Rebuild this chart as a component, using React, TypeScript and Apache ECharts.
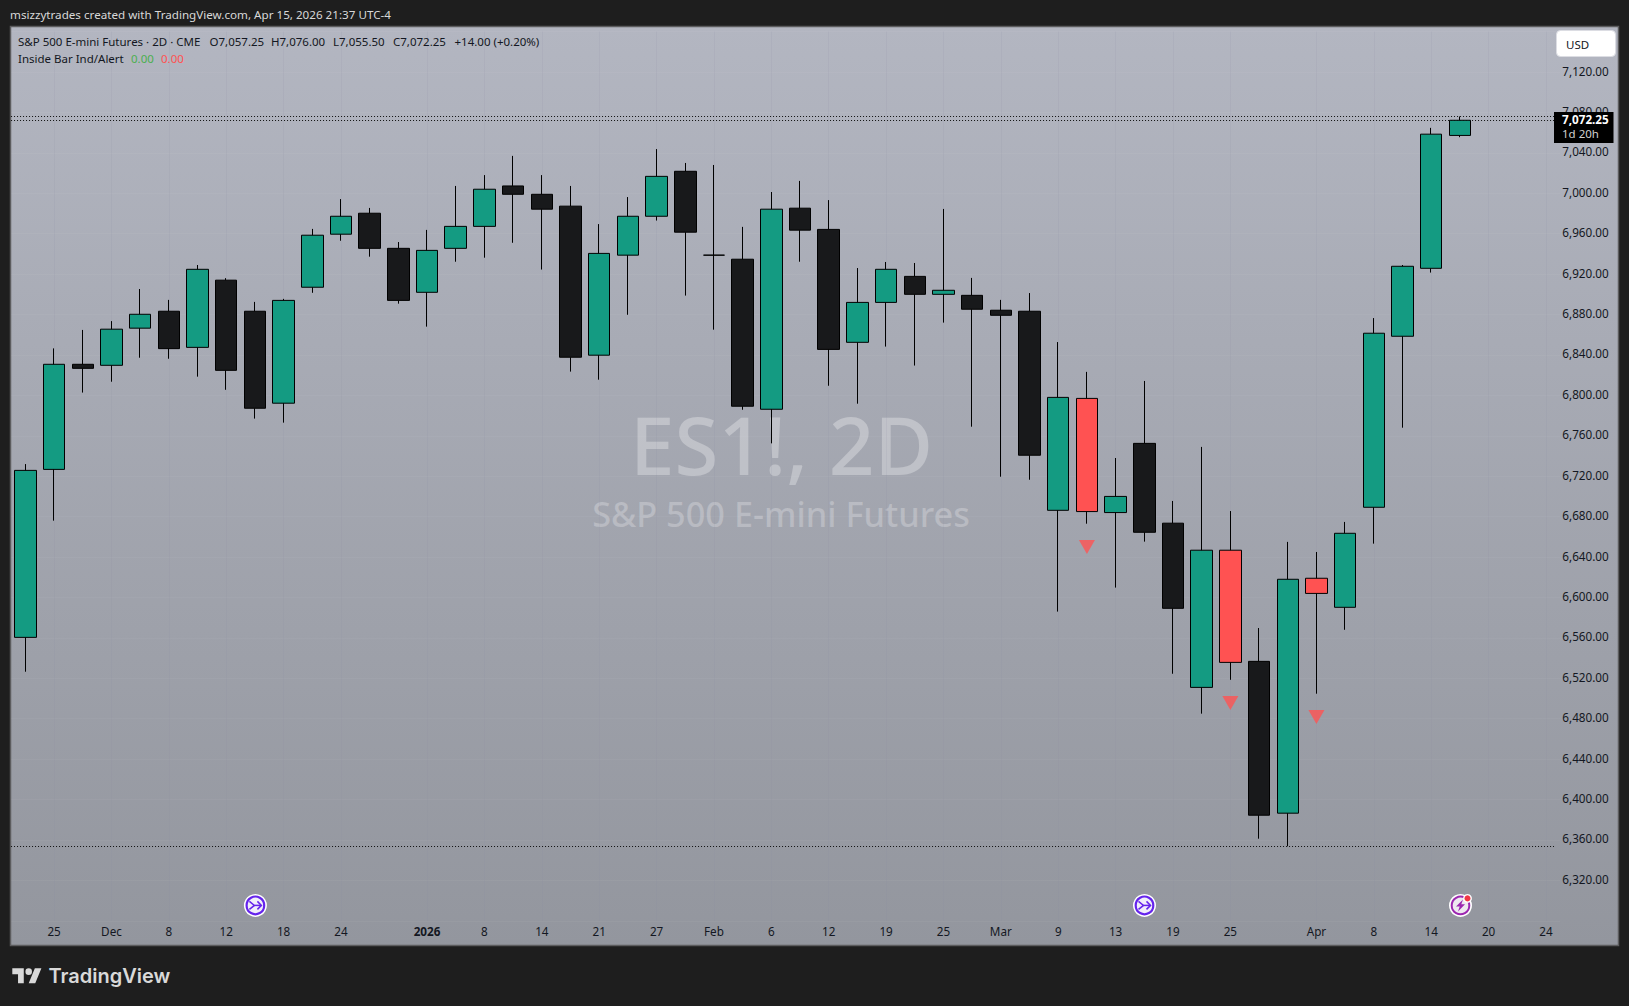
import React, { useEffect, useRef } from "react";
import * as echarts from "echarts";

const FONT = "'Noto Sans', sans-serif";

const tickLabels = [
  "", "25", "", "Dec", "", "8", "", "12", "", "18", "", "24", "", "", "2026", "", "8", "", "14", "", "21", "", "27", "",
  "Feb", "", "6", "", "12", "", "19", "", "25", "", "Mar", "", "9", "", "13", "", "19", "", "25", "", "", "Apr", "", "8",
  "", "14", "", "20", "", "24",
];
const opens = [
  6560.5, 6726.75, 6830.75, 6829.75, 6866.5, 6883.25, 6847.5, 6914, 6883.25, 6792.25, 6907, 6959.5, 6980.25, 6945.5, 6902, 6945.5, 6967.25,
  7007.25, 6999, 6987.25, 6839.75, 6938.75, 6977.25, 7021.75, 6938.75, 6934.75, 6786.25, 6985.25, 6964.25, 6852.5, 6892, 6917.75, 6900,
  6899, 6884.25, 6883.25, 6686.25, 6797, 6684, 6752.5, 6673.5, 6511, 6646.75, 6536.75, 6386.5, 6619, 6590.25, 6689.25, 6858.5, 6925.75, 7057.25,
];
const closes = [
  6725.75, 6830.75, 6826.75, 6865.5, 6880.25, 6846.25, 6924.75, 6824.75, 6787.25, 6894, 6958.5, 6977.25, 6945.5, 6894, 6943.5, 6967.25, 7004,
  6999, 6984.25, 6837.75, 6940.5, 6977.25, 7016.75, 6961.5, 6938.75, 6789.25, 6984.25, 6963.5, 6845.5, 6892, 6924.75, 6900, 6904,
  6885.25, 6879.25, 6740.75, 6798, 6685, 6700, 6664.5, 6589.25, 6646.75, 6535.75, 6384.5, 6618, 6604, 6663.5, 6861.5, 6927.75, 7058.5, 7072.25,
];
const lows = [
  6526.5, 6676, 6802.75, 6813.5, 6837.25, 6836.25, 6818.5, 6805.5, 6777, 6773, 6901.5, 6953, 6937.25, 6890.75, 6868, 6932.25, 6936.25,
  6951, 6924.5, 6823.5, 6815.5, 6879.75, 6973, 6898.75, 6865, 6785.75, 6752.5, 6932.25, 6809.5, 6791.75, 6848.25, 6829.5, 6872,
  6769, 6719.5, 6716.5, 6586, 6673, 6609.75, 6655.25, 6524.5, 6485, 6518.5, 6361.25, 6353.75, 6504.75, 6568, 6653.25, 6768, 6921.5, 7055.5,
];
const highs = [
  6732, 6846.5, 6864.75, 6873.5, 6905.25, 6894.5, 6929, 6916, 6892.5, 6895.5, 6964.75, 6994.25, 6985.5, 6951.75, 6963.75, 7007.25, 7018,
  7037, 7018, 7007.25, 6969.5, 6996.25, 7043.75, 7030, 7028, 6966.75, 7001.25, 7012.25, 6993.25, 6926, 6932, 6931, 6984.5,
  6916.25, 6894.5, 6901.25, 6852.75, 6823.25, 6738, 6814.25, 6695.5, 6749, 6685.5, 6569.75, 6655, 6645, 6674.75, 6876.5, 6929, 7064.75, 7076,
];
const bodyKinds = "ggkggkgkkggg" + "kkgggkkkgggkkkgkkggkgkkk" + "grgkkgrkgrggggg";
const markerIndexes = [37, 42, 45];
const markerPrices = [6650, 6495.5, 6481.75];
const priceLines = [7076, 7072.25, 6353.75];
const yMin = 6280;
const yMax = 7160;
const yStep = 40;

const legendParts: [string, number, string][] = [
  ["S&P 500 E-mini Futures · 2D · CME", 18, "#131722"],
  ["O7,057.25", 209.5, "#131722"],
  ["H7,076.00", 271, "#131722"],
  ["L7,055.50", 333, "#131722"],
  ["C7,072.25", 393, "#131722"],
  ["+14.00 (+0.20%)", 454.5, "#131722"],
];

const fills: Record<string, string> = { g: "#149b82", k: "#18191b", r: "#ff5252" };

const LOGO =
  "M14 22H7V11H0V4h14v18zM28 22h-8l7.5-18h8L28 22zM24 8a4 4 0 1 1-8 0 4 4 0 0 1 8 0z";
echarts.graphic.registerShape("tvlogo", echarts.graphic.extendPath(LOGO, {}) as any);

const txt = (text: string, x: number, y: number, fill: string, fontSize = 11.5, extra: any = {}) => ({
  type: "text",
  x,
  y,
  z: 50,
  silent: true,
  style: { text, fill, font: `${extra.weight || "normal"} ${fontSize}px ${extra.family || FONT}`, textVerticalAlign: "middle", textAlign: extra.align || "left" },
});

const mergeIcon = (cx: number, cy: number) => ({
  type: "group",
  x: cx,
  y: cy,
  z: 40,
  silent: true,
  children: [
    { type: "circle", z: 40, shape: { r: 11.5 }, style: { fill: "#ffffff" } },
    { type: "circle", z: 41, shape: { r: 8.8 }, style: { fill: "#f1eefb", stroke: "#6524ec", lineWidth: 2.2 } },
    { type: "polyline", z: 42, shape: { points: [[-6, -4], [-1, 0], [-6, 4]] }, style: { fill: "none", stroke: "#6524ec", lineWidth: 1.5 } },
    { type: "line", z: 42, shape: { x1: -1, y1: 0, x2: 6, y2: 0 }, style: { stroke: "#6524ec", lineWidth: 1.5 } },
    { type: "polyline", z: 42, shape: { points: [[2, -4], [6, 0], [2, 4]] }, style: { fill: "none", stroke: "#6524ec", lineWidth: 1.5 } },
  ],
});

const boltIcon = (cx: number, cy: number) => ({
  type: "group",
  x: cx,
  y: cy,
  z: 40,
  silent: true,
  children: [
    { type: "circle", z: 40, shape: { r: 11.5 }, style: { fill: "#ffffff" } },
    { type: "circle", z: 41, shape: { r: 8.8 }, style: { fill: "#eee8f0", stroke: "#9c27b0", lineWidth: 2 } },
    { type: "polygon", z: 42, shape: { points: [[2.5, -6], [-4.5, 1.2], [-0.8, 1.2], [-2.5, 6], [4.5, -1.2], [0.8, -1.2]] }, style: { fill: "#9c27b0" } },
    { type: "circle", z: 43, shape: { cx: 7, cy: -7, r: 4.4 }, style: { fill: "#ffffff" } },
    { type: "circle", z: 44, shape: { cx: 7, cy: -7, r: 3 }, style: { fill: "#f23645" } },
  ],
});

export default function App() {
  const ref = useRef<HTMLDivElement>(null);
  useEffect(() => {
    document.body.style.margin = "0";
    document.body.style.background = "#1e1e1e";
    const chart = echarts.init(ref.current!, undefined, { renderer: "svg" });
    const candleData = opens.map((o, i) => {
      const c = fills[bodyKinds[i]];
      return {
        value: [o, closes[i], lows[i], highs[i]],
        itemStyle: { color: c, color0: c, borderColor: "#000000", borderColor0: "#000000", borderColorDoji: "#000000", borderWidth: 1 },
      };
    });
    chart.setOption({
      animation: false,
      backgroundColor: "#1e1e1e",
      grid: { left: 11.05, top: 31.6, width: 1549.26, height: 889.2, containLabel: false },
      xAxis: {
        type: "category",
        data: tickLabels.map((t) => (t === "2026" ? { value: t, textStyle: { fontWeight: "bold" } } : t)),
        boundaryGap: true,
        axisLine: { show: false },
        axisTick: { show: false },
        axisLabel: { interval: 0, color: "#131722", fontSize: 11.7, fontFamily: FONT, margin: 4, hideOverlap: false },
        splitLine: {
          show: true,
          alignWithLabel: true,
          interval: (i: number) => tickLabels[i] !== "",
          lineStyle: { color: "rgba(140,140,165,0.13)", width: 1 },
        },
      },
      yAxis: {
        type: "value",
        position: "right",
        min: yMin,
        max: yMax,
        interval: yStep,
        scale: true,
        axisLine: { show: false },
        axisTick: { show: false },
        axisLabel: {
          showMinLabel: false,
          showMaxLabel: false,
          margin: 2,
          align: "left",
          verticalAlign: "bottom",
          lineHeight: 3,
          color: "#131722",
          fontSize: 11.7,
          fontFamily: FONT,
          formatter: (v: number) => v.toLocaleString("en-US", { minimumFractionDigits: 2, maximumFractionDigits: 2 }),
        },
        splitLine: { show: true, lineStyle: { color: "rgba(255,255,255,0.04)", width: 1 } },
      },
      series: [
        {
          type: "candlestick",
          name: "ES1!",
          data: candleData,
          barWidth: 22,
          z: 3,
        },
        {
          type: "scatter",
          name: "Inside Bar",
          data: markerIndexes.map((idx, i) => [idx, markerPrices[i]]),
          symbol: "triangle",
          symbolRotate: 180,
          symbolSize: [16, 14],
          itemStyle: { color: "#ff5252" },
          z: 4,
        },
        {
          type: "custom",
          name: "Price lines",
          data: priceLines.map((p) => [p]),
          encode: { y: 0 },
          clip: false,
          z: 2,
          renderItem: (params: any, api: any) => {
            const y = Math.round(api.coord([0, api.value(0)])[1]) + 0.5;
            return {
              type: "line",
              shape: { x1: params.coordSys.x, y1: y, x2: 1554, y2: y },
              style: { stroke: "#101010", lineWidth: 1, lineDash: [1, 2] },
              silent: true,
            };
          },
        },
      ],
      graphic: {
        elements: [
          {
            type: "rect",
            z: -3,
            silent: true,
            shape: { x: 10.5, y: 26.5, width: 1608, height: 919 },
            style: {
              fill: new echarts.graphic.LinearGradient(0, 0, 0, 1, [
                { offset: 0, color: "#b3b6c1" },
                { offset: 1, color: "#93969e" },
              ]),
              stroke: "#5c5c5e",
              lineWidth: 1.5,
            },
          },
          { type: "text", z: -2, silent: true, x: 781.5, y: 443, style: { text: "ES1!, 2D", fill: "rgba(255,255,255,0.3)", font: `500 80px ${FONT}`, textAlign: "center", textVerticalAlign: "middle", lineHeight: 60 } },
          { type: "text", z: -2, silent: true, x: 781, y: 513.5, style: { text: "S&P 500 E-mini Futures", fill: "rgba(255,255,255,0.25)", font: `500 34.3px ${FONT}`, textAlign: "center", textVerticalAlign: "middle", lineHeight: 30 } },
          txt("msizzytrades created with TradingView.com, Apr 15, 2026 21:37 UTC-4", 10, 14, "#d8d8d8", 11.65),
          ...legendParts.map(([t, x, c]) => txt(t, x, 41, c)),
          txt("Inside Bar Ind/Alert", 18, 58, "#131722"),
          txt("0.00", 131, 58, "#4caf50"),
          txt("0.00", 161, 58, "#ff5252"),
          { type: "rect", z: 45, silent: true, shape: { x: 1556.5, y: 30.5, width: 59, height: 26, r: 4 }, style: { fill: "#ffffff", stroke: "#dcdde3", lineWidth: 1 } },
          txt("USD", 1566, 44, "#131722"),
          { type: "rect", z: 45, silent: true, shape: { x: 1554, y: 112, width: 59.5, height: 31 }, style: { fill: "#000000" } },
          txt("7,072.25", 1562, 118.5, "#ffffff", 11.7, { weight: "bold" }),
          txt("1d 20h", 1562, 133, "#d0d0d0"),
          mergeIcon(255.4, 905.4),
          mergeIcon(1144.5, 905.4),
          boltIcon(1460.5, 905.4),
          { type: "tvlogo", z: 50, silent: true, x: 12.3, y: 965, scaleX: 0.82, scaleY: 0.83, style: { fill: "#d9d9d9" } },
          txt("TradingView", 48.5, 975.5, "#d9d9d9", 20, { weight: 600, family: "Inter, sans-serif" }),
        ],
      },
    });
    return () => chart.dispose();
  }, []);
  return <div ref={ref} style={{ position: "fixed", left: 0, top: 0, width: 1629, height: 1006 }} />;
}
